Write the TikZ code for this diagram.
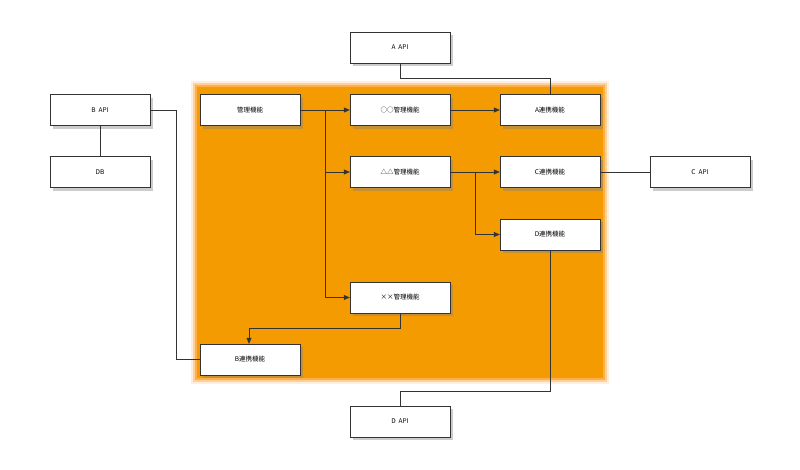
\documentclass[tikz,border=0pt]{standalone}
\usepackage{fontspec}
\setmainfont{Noto Sans CJK JP}
\usetikzlibrary{shadows,arrows.meta}
\begin{document}
\begin{tikzpicture}[x=1pt,y=-1pt,
  box/.style={draw=black!80,fill=white,minimum width=100pt,minimum height=31pt,inner sep=0pt,font=\fontsize{6.5}{8}\selectfont,drop shadow={shadow xshift=3pt,shadow yshift=-3pt,opacity=0.4}},
  ln/.style={draw=black!80,line width=0.6pt},
  arr/.style={ln,-{Triangle[length=6pt,width=5pt]}}]
\useasboundingbox (0,0) rectangle (800,469);
\foreach \o in {0.15,0.3,0.5}{\fill[orange!90!yellow,opacity=\o] (195-6+\o*12,85-6+\o*12) rectangle (605+6-\o*12,380+6-\o*12);}
\fill[color={rgb,255:red,243;green,155;blue,0}] (197,87) rectangle (603,378);
\node[box] (aapi) at (400,47.5) {A\ \ API};
\node[box] (bapi) at (100,110) {B\ \ API};
\node[box] (db) at (100,172) {DB};
\node[box] (kanri) at (250,110) {管理機能};
\node[box] (oo) at (400,110) {○○管理機能};
\node[box] (ar) at (550,110) {A連携機能};
\node[box] (tt) at (400,172) {△△管理機能};
\node[box] (cr) at (550,172) {C連携機能};
\node[box] (capi) at (700,172) {C\ \ API};
\node[box] (dr) at (550,234.5) {D連携機能};
\node[box] (xx) at (400,297.5) {××管理機能};
\node[box] (br) at (250,359.5) {B連携機能};
\node[box] (dapi) at (400,421.5) {D\ \ API};
\draw[ln] (aapi.south) |- (550,78) -- (ar.north);
\draw[ln] (bapi.east) -| (176,359.5) -- (br.west);
\draw[ln] (bapi) -- (db);
\coordinate (k1) at (325,110);
\draw[ln] (kanri.east) -- (k1);
\draw[arr] (k1) -- (oo.west);
\draw[arr] (k1) |- (tt.west);
\draw[arr] (k1) |- (xx.west);
\draw[arr] (oo) -- (ar);
\coordinate (t1) at (475,172);
\draw[ln] (tt.east) -- (t1);
\draw[arr] (t1) -- (cr.west);
\draw[arr] (t1) |- (dr.west);
\draw[ln] (cr) -- (capi);
\draw[arr] (xx.south) |- (249,328) -- (br.north -| 249,0);
\draw[ln] (dr.south) |- (400,391) -- (dapi.north);
\end{tikzpicture}
\end{document}
